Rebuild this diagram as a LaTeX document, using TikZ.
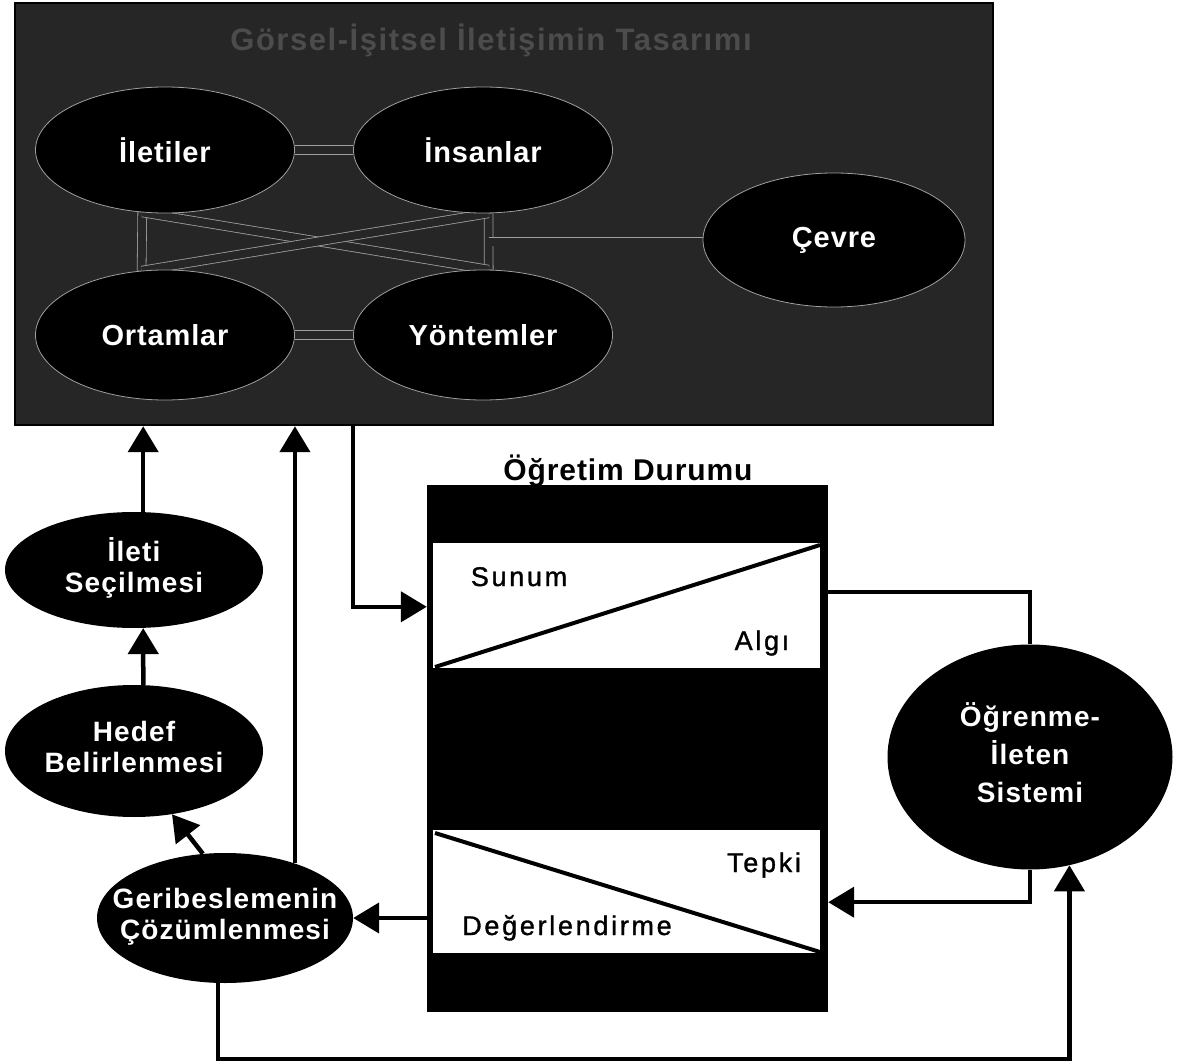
\documentclass[tikz,border=0pt]{standalone}
\usepackage{fontspec}
\setmainfont{Liberation Sans}
\newfontfamily\ttlfont[LetterSpace=5]{Liberation Sans}
\newfontfamily\ovfont[LetterSpace=3]{Liberation Sans}
\newfontfamily\lowfont[LetterSpace=4]{Liberation Sans}
\newfontfamily\bandfont[LetterSpace=10,FakeBold=1.2]{Liberation Sans}
\newfontfamily\boxfont[LetterSpace=3]{Liberation Sans}
\usetikzlibrary{shapes.geometric,arrows.meta,calc}
\pgfdeclarelayer{back}
\pgfdeclarelayer{links}
\pgfsetlayers{back,links,main}
% zero-width stacked label, so the oval keeps its own size
\newcommand\ovtext[1]{\makebox[0pt][c]{\begin{tabular}{@{}c@{}}#1\end{tabular}}}

\begin{document}
\begin{tikzpicture}[x=1pt,y=-1pt,
  bubble/.style={ellipse, fill=black, inner sep=0pt, text=white},
  topoval/.style={bubble, draw=gray!75, line width=0.8pt,
    font=\ovfont\bfseries\fontsize{29}{34}\selectfont},
  lowoval/.style={bubble, font=\lowfont\bfseries\fontsize{28}{31}\selectfont},
  link/.style={draw=gray!75, line width=0.8pt, double=black!85, double distance=8pt},
  wire/.style={draw=black, line width=4.5pt},
  flow/.style={wire, -{Triangle[length=26pt,width=30pt]}},
  bandtext/.style={font=\bandfont\fontsize{27}{30}\selectfont, anchor=base, inner sep=0pt},
]
\useasboundingbox (0,0) rectangle (1184,1064);

% --- design panel ---
\begin{pgfonlayer}{back}
\node[draw=black, line width=2.5pt, fill=black!85, minimum width=978pt,
      minimum height=422pt, inner sep=0pt] (panel) at (504,214) {};
\end{pgfonlayer}
\node[text=gray!60!black, font=\ttlfont\bfseries\fontsize{31}{36}\selectfont]
  (title) at (491,40) {Görsel-İşitsel İletişimin Tasarımı};

\node[topoval, minimum width=259pt, minimum height=126pt] (ilet) at (165,150) {İletiler};
\node[topoval, minimum width=259pt, minimum height=126pt] (insan) at (483,150) {İnsanlar};
\node[topoval, minimum width=259pt, minimum height=130pt] (ortam) at (165,335) {Ortamlar};
\node[topoval, minimum width=259pt, minimum height=130pt] (yontem) at (483,335) {Yöntemler};
\node[topoval, minimum width=262pt, minimum height=134pt] (cevre) at (834,240) {Çevre};

\begin{pgfonlayer}{links}
\draw[link] (ilet.east) -- (insan.west);
\draw[link] (ortam.east) -- (yontem.west);
\draw[link] (ilet.-110) -- (ortam.110);
\draw[link] (insan.-85) -- (yontem.85);
\draw[link] (ilet.-110) -- (yontem.85);
\draw[link] (ortam.110) -- (insan.-85);
\coordinate (hub) at ($(insan.-85)!0.5!(yontem.85)$);
\draw[link] (hub) -- (hub -| cevre.west);
\end{pgfonlayer}

% --- left column ---
\node[lowoval, minimum width=258pt, minimum height=116pt] (isec) at (134,570) {\ovtext{İleti\\Seçilmesi}};
\node[lowoval, minimum width=258pt, minimum height=132pt] (hedef) at (134,751) {\ovtext{Hedef\\Belirlenmesi}};
\node[lowoval, minimum width=256pt, minimum height=130pt] (geri) at (225,918) {\ovtext{Geribeslemenin\\Çözümlenmesi}};

% --- teaching situation box ---
\node[fill=black, minimum width=401pt, minimum height=527pt, inner sep=0pt] (ogr) at (627.5,748.5) {};
\node[font=\boxfont\bfseries\fontsize{30}{34}\selectfont, anchor=base, inner sep=0pt]
  (ogrt) at (628,481) {Öğretim Durumu};
\fill[white] (433,543) rectangle (820,668);
\draw[line width=4pt] (435,667) -- (820,545);
\fill[white] (433,830) rectangle (820,953);
\draw[line width=4pt] (435,833) -- (820,952);
\node[bandtext] (sunum) at (519,586) {Sunum};
\node[bandtext] (algi) at (762,650) {Algı};
\node[bandtext] (tepki) at (764,872) {Tepki};
\node[bandtext] (deger) at (567,935) {Değerlendirme};

% --- learner system ---
\node[lowoval, minimum width=285pt, minimum height=225pt,
      font=\lowfont\bfseries\fontsize{28}{38}\selectfont]
  (ogl) at (1030,757) {\ovtext{Öğrenme-\\İleten\\Sistemi}};

% --- flow lines ---
\draw[flow] (isec.81) -- (isec.81 |- panel.south);
\draw[flow] (hedef.82) -- (isec.-81);
\draw[flow] (geri.109) -- (hedef.-59);
\draw[flow] (geri.38) -- (geri.38 |- panel.south);
\coordinate (tap) at ($(panel.south west)+(339,0)$);
\draw[flow] (tap) |- ($(ogr.north west)+(0,122)$);
\draw[wire] ($(ogr.north east)+(0,107)$) -| (ogl.north);
\draw[flow] (ogl.south) |- ($(ogr.south east)+(0,-110)$);
\draw[flow] (ogr.west |- geri.east) -- (geri.east);
\draw[flow] (geri.-96) -- ++(0,76) -| (ogl.-70);
\end{tikzpicture}
\end{document}
